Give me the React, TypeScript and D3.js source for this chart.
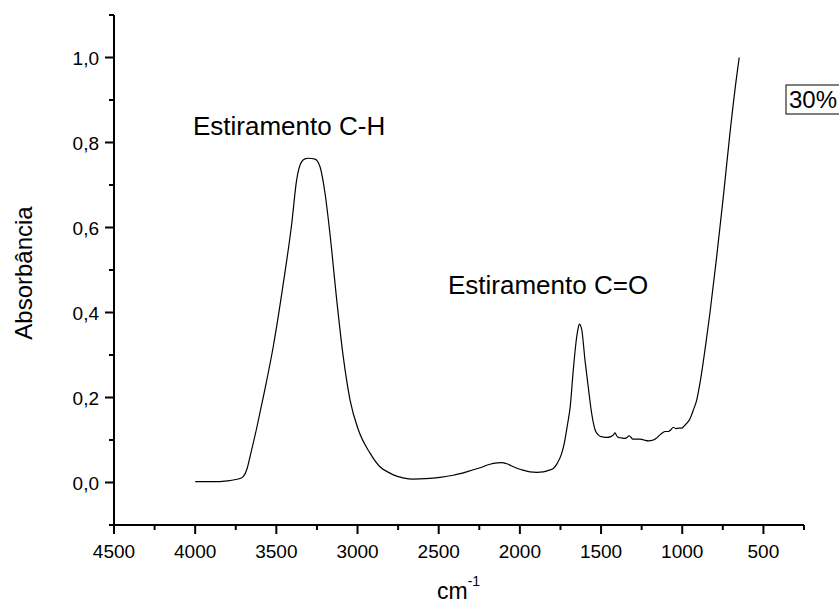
import React from "react";
import * as d3 from "d3";

const wavenumbers = [
  4000, 3900, 3800, 3750, 3720, 3704, 3680, 3662, 3620, 3580, 3519, 3457, 3405, 3375, 3344,
  3320, 3303, 3262, 3231, 3200, 3170, 3128, 3088, 3046, 2995, 2923, 2862, 2800, 2780, 2720,
  2656, 2580, 2492, 2410, 2328, 2250, 2184, 2140, 2112, 2080, 2040, 1990, 1938, 1895, 1856,
  1820, 1794, 1770, 1742, 1725, 1712, 1702, 1691, 1671, 1650, 1640, 1634, 1627, 1619, 1599,
  1579, 1558, 1537, 1520, 1507, 1485, 1465, 1440, 1424, 1414, 1404, 1394, 1375, 1353, 1340,
  1328, 1315, 1305, 1285, 1260, 1235, 1209, 1178, 1160, 1137, 1120, 1106, 1086, 1070, 1055,
  1040, 1024, 1003, 990, 973, 952, 932, 911, 891, 870, 850, 829, 788, 747, 706, 665, 649,
];
const absorbance = [
  0.002, 0.002, 0.004, 0.007, 0.010, 0.014, 0.033, 0.061, 0.130, 0.202, 0.320, 0.469, 0.610, 0.712, 0.755,
  0.762, 0.763, 0.761, 0.743, 0.680, 0.586, 0.429, 0.296, 0.194, 0.124, 0.069, 0.037, 0.022, 0.018, 0.011,
  0.008, 0.009, 0.012, 0.017, 0.025, 0.034, 0.043, 0.046, 0.047, 0.044, 0.037, 0.030, 0.025, 0.024, 0.025,
  0.029, 0.033, 0.045, 0.069, 0.095, 0.124, 0.147, 0.175, 0.265, 0.343, 0.365, 0.373, 0.370, 0.360, 0.288,
  0.225, 0.163, 0.124, 0.113, 0.109, 0.107, 0.106, 0.108, 0.112, 0.117, 0.110, 0.106, 0.105, 0.104, 0.106,
  0.110, 0.106, 0.102, 0.102, 0.102, 0.100, 0.098, 0.100, 0.104, 0.112, 0.117, 0.120, 0.120, 0.124, 0.130,
  0.127, 0.128, 0.128, 0.132, 0.139, 0.150, 0.170, 0.194, 0.233, 0.285, 0.340, 0.400, 0.531, 0.672, 0.822, 0.955, 1.0,
];

const xTicks = [4500, 4000, 3500, 3000, 2500, 2000, 1500, 1000, 500];
const xMinorTicks = [4250, 3750, 3250, 2750, 2250, 1750, 1250, 750, 250];
const yTicks = [0.0, 0.2, 0.4, 0.6, 0.8, 1.0];
const yMinorTicks = [-0.1, 0.1, 0.3, 0.5, 0.7, 0.9, 1.1];

const FONT = "'Liberation Sans', Arial, sans-serif";

export default function App() {
  const W = 839;
  const H = 604;
  const x = d3.scaleLinear().domain([4500, 250]).range([114, 804]);
  const y = d3.scaleLinear().domain([-0.1, 1.1]).range([525, 15]);

  const data = wavenumbers.map((w, i) => [w, absorbance[i]] as [number, number]);
  const line = d3
    .line<[number, number]>()
    .x((d) => x(d[0]))
    .y((d) => y(d[1]))
    .curve(d3.curveMonotoneX);

  const fmt = (v: number) => v.toFixed(1).replace(".", ",");

  return (
    <svg
      width={W}
      height={H}
      style={{ position: "absolute", left: 0, top: 0, background: "#fff" }}
      fontFamily={FONT}
    >
      {/* curve */}
      <path d={line(data.slice().reverse()) || ""} fill="none" stroke="#000" strokeWidth={1.2} />

      {/* axes */}
      <line x1={x(4500)} x2={x(250)} y1={525} y2={525} stroke="#000" strokeWidth={2} />
      <line x1={114} x2={114} y1={y(1.1)} y2={525} stroke="#000" strokeWidth={2} />

      {xTicks.map((t) => (
        <g key={"xt" + t}>
          <line x1={x(t)} x2={x(t)} y1={525} y2={534} stroke="#000" strokeWidth={2} />
          <text x={x(t)} y={558} textAnchor="middle" fontSize={19} fill="#000">
            {t}
          </text>
        </g>
      ))}
      {xMinorTicks.map((t) => (
        <line key={"xm" + t} x1={x(t)} x2={x(t)} y1={525} y2={530} stroke="#000" strokeWidth={2} />
      ))}

      {yTicks.map((t) => (
        <g key={"yt" + t}>
          <line x1={105} x2={114} y1={y(t)} y2={y(t)} stroke="#000" strokeWidth={2} />
          <text x={99} y={y(t) + 7} textAnchor="end" fontSize={19} fill="#000">
            {fmt(t)}
          </text>
        </g>
      ))}
      {yMinorTicks.map((t) => (
        <line key={"ym" + t} x1={109} x2={114} y1={y(t)} y2={y(t)} stroke="#000" strokeWidth={2} />
      ))}

      {/* axis titles */}
      <text
        transform={`translate(32, 273) rotate(-90)`}
        textAnchor="middle"
        fontSize={24}
        fill="#000"
      >
        Absorbância
      </text>
      <text x={437} y={599} fontSize={23} fill="#000">
        cm
        <tspan fontSize={14} dy={-13}>-1</tspan>
      </text>

      {/* annotations */}
      <text x={193} y={135} fontSize={26} fill="#000">
        Estiramento C-H
      </text>
      <text x={448} y={294} fontSize={26} fill="#000">
        Estiramento C=O
      </text>

      {/* legend box */}
      <rect x={786} y={85} width={60} height={29} fill="#fff" stroke="#000" strokeWidth={1} />
      <text x={789} y={108} fontSize={24} fill="#000">
        30%
      </text>
    </svg>
  );
}
